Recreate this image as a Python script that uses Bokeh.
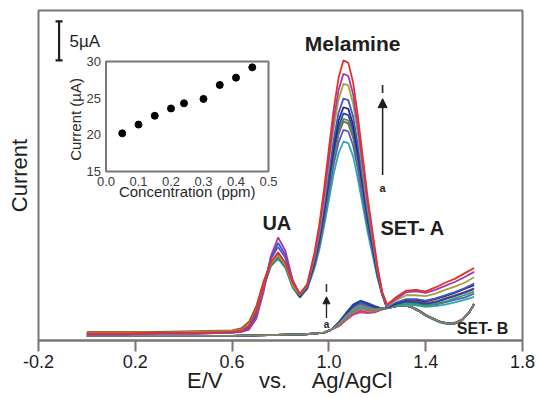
from math import pi
from bokeh.plotting import figure
from bokeh.models import (Range1d, LinearAxis, FixedTicker, Label, Arrow, NormalHead,
                          CustomJSTickFormatter)
from bokeh.embed import file_html
from bokeh.resources import INLINE

# ---------------- data ----------------
# potential grid of SET-A (V vs Ag/AgCl)
E_A = [0.00, 0.15, 0.30, 0.45, 0.60, 0.64, 0.67, 0.70, 0.73, 0.76, 0.79, 0.82, 0.85, 0.88,
       0.91, 0.94, 0.96, 0.98, 1.00, 1.02, 1.04, 1.06, 1.08, 1.10, 1.12, 1.14, 1.16, 1.18, 1.20, 1.22,
       1.24, 1.28, 1.32, 1.36, 1.40, 1.44, 1.48, 1.52, 1.56, 1.60]

# SET-A currents (uA above the bottom of the frame), highest melamine peak first
setA_red = [0.9, 0.9, 1.0, 1.0, 1.1, 1.3, 1.9, 3.8, 7.2, 10.0, 11.3, 10.0, 7.4, 6.0,
            7.2, 11.2, 14.8, 19.4, 24.6, 29.7, 33.7, 35.9, 35.6, 33.1, 28.7, 23.5, 18.4, 14.0, 9.6, 6.2,
            4.6, 5.6, 6.4, 6.5, 6.3, 6.8, 7.4, 7.9, 8.6, 9.3]
setA_purple = [0.8, 0.8, 0.9, 0.9, 1.0, 1.1, 1.4, 2.8, 6.2, 10.8, 13.2, 11.5, 7.8, 5.9,
               7.1, 10.9, 14.3, 18.6, 23.5, 28.4, 32.1, 34.2, 33.9, 31.6, 27.4, 22.5, 17.7, 13.5, 9.4, 6.2,
               4.5, 5.4, 6.2, 6.3, 6.1, 6.5, 7.0, 7.5, 8.1, 8.8]
setA_olive = [1.0, 1.0, 1.0, 1.1, 1.2, 1.4, 2.0, 3.8, 7.1, 9.8, 10.9, 9.7, 7.1, 5.8,
              7.0, 10.6, 13.9, 18.0, 22.7, 27.3, 30.9, 32.9, 32.7, 30.4, 26.4, 21.7, 17.1, 13.2, 9.2, 6.1,
              4.4, 5.2, 5.8, 5.8, 5.7, 6.0, 6.5, 6.9, 7.4, 8.1]
setA_blue = [0.8, 0.8, 0.9, 0.9, 1.0, 1.2, 1.6, 3.2, 6.8, 10.6, 12.5, 11.0, 7.6, 5.9,
             6.9, 10.3, 13.3, 17.2, 21.5, 25.8, 29.2, 31.0, 30.8, 28.7, 25.0, 20.6, 16.3, 12.6, 8.9, 6.1,
             4.3, 4.9, 5.3, 5.3, 5.1, 5.4, 5.8, 6.2, 6.7, 7.3]
setA_navy = [0.9, 0.9, 1.0, 1.0, 1.1, 1.3, 1.8, 3.6, 7.0, 9.9, 11.0, 9.8, 7.2, 5.7,
             6.8, 10.0, 12.9, 16.7, 20.8, 24.9, 28.2, 29.9, 29.7, 27.7, 24.1, 20.0, 15.8, 12.3, 8.8, 6.0,
             4.3, 4.8, 5.2, 5.2, 5.0, 5.3, 5.7, 6.1, 6.6, 7.1]
setA_cobalt = [0.9, 0.9, 1.0, 1.0, 1.1, 1.3, 1.8, 3.5, 6.9, 9.7, 10.8, 9.6, 7.1, 5.6,
               6.8, 9.9, 12.7, 16.3, 20.3, 24.3, 27.4, 29.1, 28.9, 27.0, 23.5, 19.5, 15.5, 12.1, 8.6, 6.0,
               4.2, 4.7, 5.0, 4.9, 4.7, 4.9, 5.3, 5.7, 6.1, 6.6]
setA_green = [1.0, 1.0, 1.0, 1.1, 1.2, 1.4, 2.0, 3.8, 7.0, 9.6, 10.6, 9.4, 6.9, 5.5,
              6.7, 9.8, 12.5, 16.0, 19.9, 23.7, 26.8, 28.4, 28.2, 26.3, 23.0, 19.1, 15.2, 11.9, 8.6, 6.0,
              4.2, 4.6, 4.8, 4.7, 4.5, 4.7, 5.0, 5.4, 5.8, 6.3]
setA_brown = [1.1, 1.1, 1.1, 1.2, 1.3, 1.6, 2.4, 4.4, 7.6, 10.0, 11.0, 9.6, 7.0, 5.6,
              6.7, 9.7, 12.4, 15.8, 19.7, 23.5, 26.4, 28.1, 27.8, 26.0, 22.7, 18.8, 15.0, 11.8, 8.5, 6.0,
              4.2, 4.7, 5.0, 5.0, 4.8, 5.0, 5.4, 5.8, 6.2, 6.7]
setA_violet = [0.8, 0.8, 0.9, 0.9, 1.0, 1.2, 1.7, 3.3, 6.9, 10.4, 12.0, 10.6, 7.5, 5.8,
               6.6, 9.5, 12.0, 15.3, 19.0, 22.6, 25.4, 27.0, 26.8, 25.0, 21.9, 18.2, 14.6, 11.5, 8.3, 5.9,
               4.2, 4.6, 4.8, 4.7, 4.5, 4.6, 4.9, 5.2, 5.5, 6.0]
setA_teal = [0.9, 0.9, 1.0, 1.0, 1.1, 1.3, 1.8, 3.5, 6.8, 9.5, 10.5, 9.3, 6.8, 5.5,
             6.6, 9.2, 11.6, 14.6, 18.0, 21.4, 24.0, 25.5, 25.3, 23.6, 20.7, 17.3, 13.9, 11.0, 8.1, 5.9,
             4.1, 4.5, 4.6, 4.5, 4.3, 4.4, 4.6, 4.9, 5.2, 5.6]

# potential grid of SET-B
E_B = [0.00, 0.15, 0.30, 0.45, 0.60, 0.75, 0.90, 0.95, 0.98, 1.01, 1.04, 1.07, 1.10, 1.13, 1.16,
       1.19, 1.22, 1.25, 1.28, 1.31, 1.34, 1.37, 1.40, 1.43, 1.46, 1.49, 1.52, 1.55, 1.58, 1.60]

setB_red = [0.6, 0.6, 0.6, 0.6, 0.6, 0.7, 0.8, 0.9, 1.0, 1.4, 1.8, 2.6, 3.3, 3.6, 3.5,
            3.6, 4.0, 4.2, 4.4, 4.5, 4.3, 3.8, 3.2, 2.8, 2.4, 2.2, 2.2, 2.6, 3.6, 4.7]
setB_magenta = [0.6, 0.6, 0.6, 0.6, 0.6, 0.7, 0.8, 0.9, 1.0, 1.4, 1.9, 2.7, 3.4, 3.8, 3.6,
                3.7, 4.0, 4.2, 4.4, 4.5, 4.3, 3.9, 3.3, 2.8, 2.4, 2.2, 2.2, 2.6, 3.6, 4.7]
setB_pink = [0.6, 0.6, 0.6, 0.6, 0.6, 0.7, 0.8, 0.9, 1.0, 1.4, 2.0, 2.8, 3.6, 4.0, 3.8,
             3.8, 4.1, 4.2, 4.4, 4.5, 4.3, 3.8, 3.2, 2.8, 2.4, 2.2, 2.3, 2.7, 3.6, 4.6]
setB_green = [0.6, 0.6, 0.6, 0.6, 0.6, 0.7, 0.8, 0.9, 1.0, 1.4, 2.0, 2.9, 3.8, 4.2, 4.0,
              3.9, 4.1, 4.3, 4.5, 4.6, 4.4, 3.9, 3.3, 2.8, 2.4, 2.2, 2.2, 2.6, 3.6, 4.7]
setB_teal = [0.6, 0.6, 0.6, 0.6, 0.6, 0.7, 0.8, 0.9, 1.0, 1.4, 2.1, 3.0, 3.9, 4.3, 4.1,
             4.0, 4.1, 4.2, 4.4, 4.5, 4.3, 3.8, 3.2, 2.7, 2.3, 2.1, 2.2, 2.6, 3.6, 4.7]
setB_purple = [0.6, 0.6, 0.6, 0.6, 0.6, 0.7, 0.8, 0.9, 1.0, 1.4, 2.2, 3.2, 4.2, 4.6, 4.3,
               4.1, 4.1, 4.2, 4.4, 4.5, 4.3, 3.8, 3.2, 2.8, 2.4, 2.2, 2.2, 2.6, 3.6, 4.7]
setB_blue = [0.6, 0.6, 0.6, 0.6, 0.6, 0.7, 0.8, 0.9, 1.0, 1.4, 2.2, 3.3, 4.3, 4.8, 4.5,
             4.2, 4.1, 4.2, 4.4, 4.5, 4.3, 3.8, 3.2, 2.8, 2.4, 2.2, 2.2, 2.6, 3.6, 4.7]
setB_navy = [0.6, 0.6, 0.6, 0.6, 0.6, 0.7, 0.8, 0.9, 1.0, 1.4, 2.3, 3.4, 4.5, 5.0, 4.7,
             4.3, 4.1, 4.2, 4.4, 4.5, 4.3, 3.8, 3.2, 2.8, 2.4, 2.2, 2.2, 2.6, 3.6, 4.7]
setB_indigo = [0.6, 0.6, 0.6, 0.6, 0.6, 0.7, 0.8, 0.9, 1.0, 1.4, 2.3, 3.5, 4.6, 5.1, 4.8,
               4.4, 4.1, 4.2, 4.4, 4.5, 4.3, 3.8, 3.2, 2.8, 2.4, 2.2, 2.2, 2.6, 3.6, 4.7]
setB_olive = [0.6, 0.6, 0.6, 0.6, 0.6, 0.7, 0.8, 0.9, 1.0, 1.4, 2.1, 3.1, 4.0, 4.5, 4.2,
              4.0, 4.1, 4.2, 4.4, 4.5, 4.3, 3.8, 3.2, 2.8, 2.4, 2.2, 2.2, 2.6, 3.6, 4.7]

# inset: calibration
CONC_PPM = [0.05, 0.10, 0.15, 0.20, 0.24, 0.30, 0.35, 0.40, 0.45]
PEAK_uA = [20.2, 21.4, 22.6, 23.6, 24.3, 24.9, 26.8, 27.8, 29.2]

X_TICKS = [-0.2, 0.2, 0.6, 1.0, 1.4, 1.8]
INSET_X_TICKS = [0.0, 0.1, 0.2, 0.3, 0.4, 0.5]
INSET_Y_TICKS = [15, 20, 25, 30]
SCALE_BAR_uA = 5

# ---------------- styling / layout ----------------
FONT = "Liberation Sans"
GREY = "#7d7573"
INK = "#1e1e1e"
NB = "\u00a0"

W, H = 538, 398
BL, BR, BT, BB = 38, 16, 10, 58
FRAME_W, FRAME_H = W - BL - BR, H - BT - BB

p = figure(width=W, height=H, output_backend="svg", toolbar_location=None,
           x_range=Range1d(-0.2, 1.8), y_range=Range1d(0, 42.3),
           y_axis_location=None, min_border_left=BL, min_border_right=BR,
           min_border_top=BT, min_border_bottom=BB)
p.grid.visible = False
p.background_fill_color = "white"
p.border_fill_color = "white"
p.outline_line_color = GREY
p.outline_line_width = 2
p.outline_line_alpha = 1.0

ax = p.xaxis[0]
ax.ticker = FixedTicker(ticks=X_TICKS)
ax.formatter = CustomJSTickFormatter(code="return tick.toFixed(1)")
ax.axis_line_color = GREY
ax.axis_line_width = 2
ax.major_tick_line_color = GREY
ax.major_tick_line_width = 2
ax.major_tick_out = 11
ax.major_tick_in = 0
ax.minor_tick_line_color = None
ax.major_label_standoff = 3
ax.major_label_text_font = FONT
ax.major_label_text_font_size = "18px"
ax.major_label_text_color = INK
ax.axis_label = NB * 3 + "E/V" + NB * 6 + "vs." + NB * 4 + "Ag/AgCl"
ax.axis_label_text_font = FONT
ax.axis_label_text_font_size = "22px"
ax.axis_label_text_font_style = "normal"
ax.axis_label_text_color = INK
ax.axis_label_standoff = -3

ay = LinearAxis(ticker=FixedTicker(ticks=[]), axis_label="Current")
ay.axis_line_color = None
ay.major_tick_line_color = None
ay.minor_tick_line_color = None
ay.axis_label_text_font = FONT
ay.axis_label_text_font_size = "22px"
ay.axis_label_text_font_style = "normal"
ay.axis_label_text_color = INK
ay.axis_label_standoff = 7
p.add_layout(ay, "left")

# ---- curves ----
setB = [(setB_red, "#e2463c"), (setB_magenta, "#b53f9c"), (setB_pink, "#d35f7e"),
        (setB_green, "#3f9e52"), (setB_teal, "#2aa3a3"), (setB_purple, "#7140a4"),
        (setB_blue, "#4062c4"), (setB_navy, "#2d3191"), (setB_indigo, "#2344a3"),
        (setB_olive, "#858a5c")]
for ys, c in setB:
    p.line(E_B, ys, line_color=c, line_width=1.8)

setA = [(setA_teal, "#2aabb0"), (setA_violet, "#5a58cc"), (setA_brown, "#a0522d"),
        (setA_green, "#3f9a52"), (setA_cobalt, "#2747a8"), (setA_navy, "#252a80"),
        (setA_blue, "#3e57c8"), (setA_olive, "#a3a23f"), (setA_purple, "#a33aa5"),
        (setA_red, "#e4322b")]
for ys, c in setA:
    p.line(E_A, ys, line_color=c, line_width=1.8)

# ---- scale bar ----
px_per_V = FRAME_W / 2.0
sb_x = -0.115
sb_top = 40.9
cap = 3.5 / px_per_V
p.segment(x0=[sb_x, sb_x - cap, sb_x - cap], y0=[sb_top - SCALE_BAR_uA, sb_top, sb_top - SCALE_BAR_uA],
          x1=[sb_x, sb_x + cap, sb_x + cap], y1=[sb_top, sb_top, sb_top - SCALE_BAR_uA],
          line_color=INK, line_width=2.2)
p.add_layout(Label(x=-0.072, y=38.3, text="5µA", text_font=FONT, text_font_size="17px",
                   text_color=INK, text_baseline="middle", text_align="left"))

# ---- annotations ----
def lab(x, y, t, size, bold=True, **kw):
    p.add_layout(Label(x=x, y=y, text=t, text_font=FONT, text_font_size=size,
                       text_font_style="bold" if bold else "normal", text_color=INK,
                       text_align=kw.pop("align", "center"), text_baseline=kw.pop("baseline", "middle"), **kw))

lab(1.098, 38.1, "Melamine", "21px")
lab(0.785, 15.1, "UA", "20px")
lab(1.346, 14.4, "SET- A", "20px")
lab(1.635, 1.55, "SET- B", "16px")
lab(1.222, 32.2, "l", "11px")
lab(1.222, 19.6, "a", "11px")
lab(0.990, 6.7, "l", "10px")
lab(0.990, 2.1, "a", "10px")

p.add_layout(Arrow(end=NormalHead(size=9, fill_color=INK, line_color=INK, line_width=1),
                   x_start=1.222, y_start=21.2, x_end=1.222, y_end=31.0,
                   line_color=INK, line_width=1.5))
p.add_layout(Arrow(end=NormalHead(size=7, fill_color=INK, line_color=INK, line_width=1),
                   x_start=0.990, y_start=2.9, x_end=0.990, y_end=5.6,
                   line_color=INK, line_width=1.3))

# ---------------- inset (own scales mapped into the frame) ----------------
IN_L, IN_R, IN_B, IN_T = 67.5, 230.0, 169.0, 279.0   # frame pixels from left / bottom
ux = 0.5 / (IN_R - IN_L)
uy = 15.0 / (IN_T - IN_B)
p.extra_x_ranges = {"ix": Range1d(0 - IN_L * ux, 0 - IN_L * ux + FRAME_W * ux)}
p.extra_y_ranges = {"iy": Range1d(15 - IN_B * uy, 15 - IN_B * uy + FRAME_H * uy)}

p.quad(left=[0.0], right=[0.5], bottom=[15.0], top=[30.0], x_range_name="ix", y_range_name="iy",
       fill_color="white", line_color=GREY, line_width=2)
p.scatter(CONC_PPM, PEAK_uA, x_range_name="ix", y_range_name="iy", size=7,
          fill_color="black", line_color="black")

iax = LinearAxis(x_range_name="ix", y_range_name="iy", fixed_location=15, bounds=(0, 0.5),
                 ticker=FixedTicker(ticks=INSET_X_TICKS),
                 formatter=CustomJSTickFormatter(code="return tick.toFixed(1)"))
iay = LinearAxis(x_range_name="ix", y_range_name="iy", fixed_location=0, bounds=(15, 30),
                 ticker=FixedTicker(ticks=INSET_Y_TICKS),
                 formatter=CustomJSTickFormatter(code="return tick.toFixed(0)"))
for a in (iax, iay):
    a.axis_line_color = None
    a.major_tick_line_color = None
    a.minor_tick_line_color = None
    a.major_tick_in = 0
    a.major_tick_out = 0
    a.major_label_standoff = 5
    a.major_label_text_font = FONT
    a.major_label_text_font_size = "13px"
    a.major_label_text_color = "#3a3a3a"
p.add_layout(iax, "below")
p.add_layout(iay, "left")

p.add_layout(Label(x=0.25, y=12.3, x_range_name="ix", y_range_name="iy", text="Concentration (ppm)",
                   text_font=FONT, text_font_size="15px", text_color="#2a2a2a",
                   text_align="center", text_baseline="middle"))
p.add_layout(Label(x=-0.094, y=22.1, x_range_name="ix", y_range_name="iy", text="Current (µA)",
                   text_font=FONT, text_font_size="15px", text_color="#2a2a2a", angle=pi / 2,
                   text_align="center", text_baseline="middle"))

open("out.html", "w").write(file_html(p, INLINE))
